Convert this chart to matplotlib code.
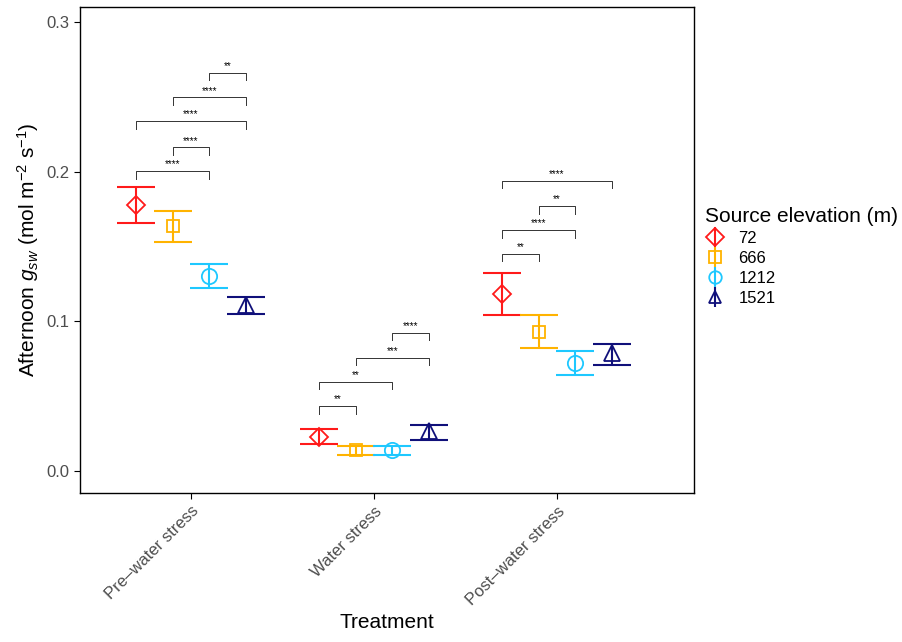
import numpy as np
import matplotlib
matplotlib.use('Agg')
import matplotlib.pyplot as plt
from matplotlib.lines import Line2D

plt.rcParams['font.family'] = ['Liberation Sans', 'DejaVu Sans']
plt.rcParams['mathtext.fontset'] = 'custom'
plt.rcParams['mathtext.rm'] = 'Liberation Sans'
plt.rcParams['mathtext.it'] = 'Liberation Sans:italic'

treatments = ['Pre\u2013water stress', 'Water stress', 'Post\u2013water stress']
elevations = ['72', '666', '1212', '1521']
colors = ['#FF1A1A', '#FFB300', '#1EC8FF', '#10107A']
markers = ['D', 's', 'o', '^']
msizes = [9, 9, 11, 11]

means = {
    '72':   [0.178, 0.023, 0.118],
    '666':  [0.164, 0.014, 0.093],
    '1212': [0.130, 0.014, 0.072],
    '1521': [0.111, 0.027, 0.079],
}
lows = {
    '72':   [0.166, 0.018, 0.104],
    '666':  [0.153, 0.011, 0.082],
    '1212': [0.122, 0.011, 0.064],
    '1521': [0.105, 0.021, 0.071],
}
highs = {
    '72':   [0.190, 0.028, 0.132],
    '666':  [0.174, 0.017, 0.104],
    '1212': [0.138, 0.017, 0.080],
    '1521': [0.116, 0.031, 0.085],
}
# (treatment index, group a, group b, height, label)
brackets = [
    (0, 0, 2, 0.2004, '****'), (0, 1, 2, 0.2164, '****'), (0, 0, 3, 0.2338, '****'),
    (0, 1, 3, 0.2498, '****'), (0, 2, 3, 0.2659, '**'),
    (1, 0, 1, 0.0434, '**'), (1, 0, 2, 0.0595, '**'), (1, 1, 3, 0.0755, '***'),
    (1, 2, 3, 0.0922, '****'),
    (2, 0, 1, 0.1450, '**'), (2, 0, 2, 0.1610, '****'), (2, 1, 2, 0.1770, '**'),
    (2, 0, 3, 0.1940, '****'),
]

offsets = [-0.3, -0.1, 0.1, 0.3]

fig = plt.figure(figsize=(9.02, 6.42), dpi=100)
ax = fig.add_axes([80/902, 1-493/642, 614/902, 486/642])

x = np.arange(1, 4)
for i, e in enumerate(elevations):
    xs = x + offsets[i]
    m = np.array(means[e]); lo = np.array(lows[e]); hi = np.array(highs[e])
    ax.errorbar(xs, m, yerr=[m - lo, hi - m], fmt='none', ecolor=colors[i],
                elinewidth=1.5, capsize=14, capthick=1.5, zorder=2)
    ax.plot(xs, m, linestyle='none', marker=markers[i], ms=msizes[i],
            mfc='none', mec=colors[i], mew=1.3, zorder=3)

for t, a, b, h, lab in brackets:
    xa = t + 1 + offsets[a]; xb = t + 1 + offsets[b]
    ax.plot([xa, xa, xb, xb], [h - 0.005, h, h, h - 0.005], color='#333333', lw=0.7)
    ax.text((xa + xb) / 2, h + 0.001, lab, ha='center', va='bottom', fontsize=7)

ax.set_xlim(0.393, 3.75)
ax.set_ylim(-0.0147, 0.310)
ax.set_yticks([0.0, 0.1, 0.2, 0.3])
ax.set_yticklabels(['0.0', '0.1', '0.2', '0.3'])
ax.set_xticks(x)
ax.set_xticklabels(treatments, rotation=45, ha='right', rotation_mode='anchor')
ax.tick_params(labelsize=12, labelcolor='#4d4d4d', length=4)
for s in ax.spines.values():
    s.set_linewidth(1.0)
ax.set_xlabel('Treatment', fontsize=15)
ax.set_ylabel(r'Afternoon $g_{sw}$ (mol m$^{-2}$ s$^{-1}$)', fontsize=15)

handles = []
for i, e in enumerate(elevations):
    mk = Line2D([0], [0], color=colors[i], marker=markers[i], mfc='none',
                mec=colors[i], ms=9, lw=0, mew=1.3)
    vl = Line2D([0], [0], color=colors[i], marker='|', ms=14, lw=0, mew=1.5)
    handles.append((mk, vl))
leg = fig.legend(handles=handles, labels=elevations, title='Source elevation (m)',
                 loc='upper left', bbox_to_anchor=(690/902, 1-192/642), frameon=False,
                 fontsize=12, title_fontsize=15, handlelength=1.2, labelspacing=0.3)
leg._legend_box.align = 'left'

fig.savefig('out.png', dpi=100)
